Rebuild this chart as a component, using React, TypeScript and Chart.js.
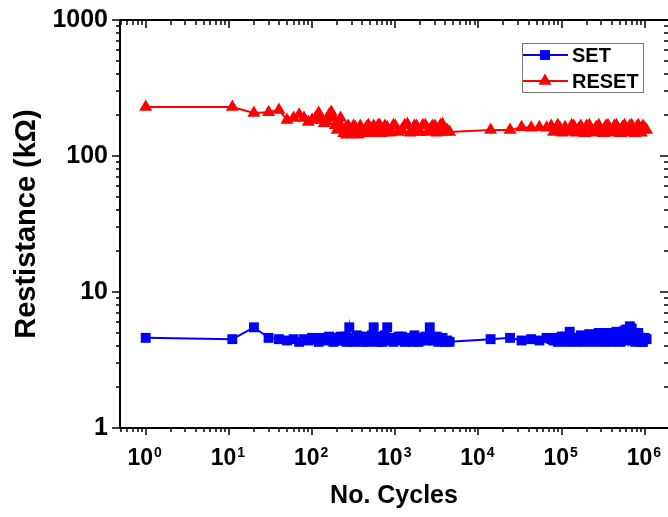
import React, { useEffect, useRef } from 'react';
import { Chart, registerables } from 'chart.js';

Chart.register(...registerables);

const cycles = [1, 11, 20, 30, 40, 50, 60, 70, 80, 90,
  100, 110, 120, 130, 140, 150, 160, 170, 180, 190,
  200, 210, 220, 230, 240, 250, 260, 270, 280, 290,
  300, 315, 330, 345, 360, 380, 400, 425, 450, 475,
  500, 525, 550, 575, 600, 625, 650, 675, 700, 750,
  800, 850, 900, 950, 1000, 1100, 1200, 1300, 1400, 1500,
  1600, 1700, 1800, 1900, 2000, 2150, 2300, 2450, 2600, 2800,
  3000, 3150, 3300, 3500, 3700, 3950, 4200, 4500,
  14000, 24000, 33000, 43000, 54000, 66000, 75000, 80000, 85000, 90000,
  95000, 100000, 110000, 117000, 125000, 132000, 140000, 150000, 160000, 170000,
  180000, 190000, 200000, 215000, 230000, 245000, 260000, 280000, 300000, 320000,
  340000, 360000, 380000, 405000, 430000, 455000, 480000, 510000, 540000, 570000,
  600000, 630000, 660000, 695000, 730000, 765000, 800000, 835000, 870000, 910000,
  950000, 1000000, 1050000];

const setValues = [4.6, 4.5, 5.5, 4.6, 4.5, 4.4, 4.5, 4.3, 4.5, 4.4,
  4.6, 4.5, 4.3, 4.6, 4.5, 4.4, 4.7, 4.5, 4.3, 4.6,
  4.4, 4.6, 4.7, 4.4, 4.5, 4.7, 4.3, 4.6, 5.5, 4.4,
  4.6, 4.3, 4.4, 4.8, 4.7, 4.4, 4.3, 4.7, 4.6, 4.3,
  4.4, 4.8, 5.5, 4.4, 4.5, 4.3, 4.7, 4.4, 4.3, 4.8,
  5.5, 4.4, 4.6, 4.3, 4.4, 4.7, 4.7, 4.3, 4.5, 4.6,
  4.3, 4.8, 4.6, 4.3, 4.4, 4.6, 4.7, 4.4, 5.5, 4.4,
  4.5, 4.7, 4.3, 4.5, 4.6, 4.3, 4.4, 4.3,
  4.5, 4.6, 4.4, 4.5, 4.4, 4.6, 4.5, 4.4, 4.6, 4.3,
  4.5, 4.7, 4.7, 4.3, 5.1, 4.4, 4.6, 4.3, 4.5, 4.8,
  4.7, 4.3, 4.5, 4.9, 4.8, 4.3, 4.6, 5.0, 4.8, 4.3,
  4.5, 5.0, 4.9, 4.3, 4.6, 5.1, 4.9, 4.3, 4.5, 5.2,
  5.3, 4.4, 5.6, 5.4, 4.7, 4.3, 4.4, 5.0, 4.6, 4.3,
  4.3, 4.6, 4.5];

const resetValues = [229, 229, 207, 210, 218, 184, 190, 201, 190, 178,
  184, 190, 207, 184, 174, 180, 201, 211, 190, 168,
  155, 174, 190, 160, 147, 158, 143, 166, 161, 150,
  147, 166, 163, 150, 143, 166, 155, 147, 163, 168,
  147, 160, 166, 150, 155, 168, 168, 147, 153, 166,
  163, 148, 150, 168, 166, 150, 155, 168, 171, 148,
  153, 166, 166, 150, 150, 168, 168, 150, 155, 166,
  166, 148, 153, 168, 171, 150, 155, 150,
  155, 155, 163, 161, 163, 161, 166, 150, 155, 168,
  161, 148, 163, 150, 153, 168, 166, 148, 158, 166,
  150, 147, 166, 168, 155, 148, 163, 168, 150, 147,
  166, 168, 158, 148, 166, 168, 153, 147, 163, 168,
  155, 148, 166, 168, 150, 147, 163, 168, 155, 148,
  166, 160, 155];

const xTickValues = [1, 10, 100, 1000, 10000, 100000, 1000000];
const xTickExponents = ['0', '1', '2', '3', '4', '5', '6'];
const yTickValues = [1, 10, 100, 1000];
const yTickLabels = ['1', '10', '100', '1000'];

const FONT = "'Liberation Sans', Arial, Helvetica, sans-serif";

const framePlugin = {
  id: 'frameTicks',
  afterDraw(chart: any) {
    const { ctx, chartArea: ca, scales } = chart;
    const xs = scales.x;
    const ys = scales.y;
    ctx.save();
    ctx.strokeStyle = '#000';
    ctx.lineWidth = 2;
    ctx.beginPath();
    ctx.moveTo(ca.left, ca.bottom);
    ctx.lineTo(ca.left, ca.top);
    ctx.lineTo(ca.right + 1, ca.top);
    ctx.moveTo(ca.left - 1, ca.bottom);
    ctx.lineTo(ca.right + 1, ca.bottom);
    ctx.stroke();

    ctx.lineWidth = 1.5;
    ctx.beginPath();
    for (let e = -1; e <= 6; e++) {
      for (let m = 1; m <= 9; m++) {
        const v = m * Math.pow(10, e);
        if (v < xs.min || v > xs.max) continue;
        const p = Math.round(xs.getPixelForValue(v));
        const major = m === 1;
        ctx.moveTo(p, ca.bottom);
        ctx.lineTo(p, ca.bottom + (major ? 7 : 4));
        ctx.moveTo(p, ca.top);
        ctx.lineTo(p, ca.top + (major ? 8 : 5));
      }
    }
    for (let e = 0; e <= 3; e++) {
      for (let m = 1; m <= 9; m++) {
        const v = m * Math.pow(10, e);
        if (v < ys.min || v > ys.max) continue;
        const p = Math.round(ys.getPixelForValue(v));
        const major = m === 1;
        ctx.moveTo(ca.left, p);
        ctx.lineTo(ca.left - (major ? 8 : 4), p);
        ctx.moveTo(ca.right, p);
        ctx.lineTo(ca.right - (major ? 8 : 4), p);
      }
    }
    ctx.stroke();

    // x tick labels with superscripts
    ctx.fillStyle = '#000';
    ctx.textBaseline = 'alphabetic';
    ctx.textAlign = 'left';
    xTickValues.forEach((v, i) => {
      const p = xs.getPixelForValue(v);
      ctx.font = `bold 23px ${FONT}`;
      const w1 = ctx.measureText('10').width;
      ctx.font = `bold 14px ${FONT}`;
      const w2 = ctx.measureText(xTickExponents[i]).width;
      const total = w1 + 1 + w2;
      const x0 = p - total / 2 - 1;
      ctx.font = `bold 23px ${FONT}`;
      ctx.fillText('10', x0, ca.bottom + 37);
      ctx.font = `bold 14px ${FONT}`;
      ctx.fillText(xTickExponents[i], x0 + w1 + 1, ca.bottom + 29);
    });

    // legend
    const bx = 522.5, by = 43.5, bw = 121, bh = 49;
    ctx.strokeStyle = '#7a7a7a';
    ctx.lineWidth = 1;
    ctx.strokeRect(bx, by, bw, bh);
    const ds = chart.data.datasets;
    const rows = [55, 81];
    ds.forEach((d: any, i: number) => {
      const y = rows[i];
      ctx.strokeStyle = d.borderColor;
      ctx.fillStyle = d.backgroundColor;
      ctx.lineWidth = 2;
      ctx.beginPath();
      ctx.moveTo(523, y);
      ctx.lineTo(568, y);
      ctx.stroke();
      const cx = 545;
      const r = d.pointRadius;
      ctx.beginPath();
      if (d.pointStyle === 'rect') {
        const s = Math.SQRT1_2 * r;
        ctx.rect(cx - s, y - s, 2 * s, 2 * s);
      } else {
        ctx.moveTo(cx, y - r);
        ctx.lineTo(cx + Math.sin(2 * Math.PI / 3) * r, y + r / 2);
        ctx.lineTo(cx - Math.sin(2 * Math.PI / 3) * r, y + r / 2);
        ctx.closePath();
      }
      ctx.fill();
      ctx.fillStyle = '#000';
      ctx.font = `bold 20px ${FONT}`;
      ctx.textBaseline = 'middle';
      ctx.fillText(d.label, 572, y + 1);
    });
    ctx.restore();
  },
};

export default function App() {
  const ref = useRef<HTMLCanvasElement | null>(null);
  useEffect(() => {
    document.body.style.margin = '0';
    const canvas = ref.current;
    if (!canvas) return;
    const chart = new Chart(canvas, {
      type: 'scatter',
      data: {
        datasets: [
          {
            label: 'SET',
            data: cycles.map((c, i) => ({ x: c, y: setValues[i] })),
            showLine: true,
            borderColor: '#0000ff',
            backgroundColor: '#0000ff',
            borderWidth: 2,
            pointStyle: 'rect',
            pointRadius: 7,
            pointHoverRadius: 7,
            pointBorderWidth: 0,
          },
          {
            label: 'RESET',
            data: cycles.map((c, i) => ({ x: c, y: resetValues[i] })),
            showLine: true,
            borderColor: '#ff0000',
            backgroundColor: '#ff0000',
            borderWidth: 2,
            pointStyle: 'triangle',
            pointRadius: 7.5,
            pointHoverRadius: 7.5,
            pointBorderWidth: 0,
          },
        ],
      },
      options: {
        animation: false,
        responsive: false,
        devicePixelRatio: 1,
        layout: { autoPadding: false, padding: { top: 20, right: 0, left: 0, bottom: 0 } },
        plugins: { legend: { display: false }, tooltip: { enabled: false } },
        scales: {
          x: {
            type: 'logarithmic',
            position: 'bottom',
            min: 0.491,
            max: 1.9e6,
            grid: { display: false, drawTicks: false },
            border: { display: false },
            afterBuildTicks: (s: any) => { s.ticks = xTickValues.map((v) => ({ value: v })); },
            afterFit: (s: any) => {
              s.height = 89;
              s.paddingLeft = 0;
              s.paddingRight = 0;
            },
            ticks: { display: false },
            title: {
              display: true,
              text: 'No. Cycles',
              color: '#000',
              font: { family: FONT, size: 25, weight: 'bold' },
              padding: { top: 0, bottom: 6 },
            },
          },
          y: {
            type: 'logarithmic',
            position: 'left',
            min: 1,
            max: 1000,
            grid: { display: false, drawTicks: false },
            border: { display: false },
            afterBuildTicks: (s: any) => { s.ticks = yTickValues.map((v) => ({ value: v })); },
            afterFit: (s: any) => {
              s.width = 120;
              s.paddingTop = 0;
              s.paddingBottom = 0;
            },
            ticks: {
              padding: 12,
              color: '#000',
              font: { family: FONT, size: 25, weight: 'bold' },
              callback: (_v: any, i: number) => yTickLabels[i],
            },
            title: {
              display: true,
              text: 'Restistance (kΩ)',
              color: '#000',
              font: { family: FONT, size: 29, weight: 'bold' },
              padding: { top: 10, bottom: 0 },
            },
          },
        },
      },
      plugins: [framePlugin],
    } as any);
    return () => chart.destroy();
  }, []);
  return (
    <div style={{ width: 668, height: 517 }}>
      <canvas ref={ref} width={668} height={517} style={{ display: 'block' }} />
    </div>
  );
}
